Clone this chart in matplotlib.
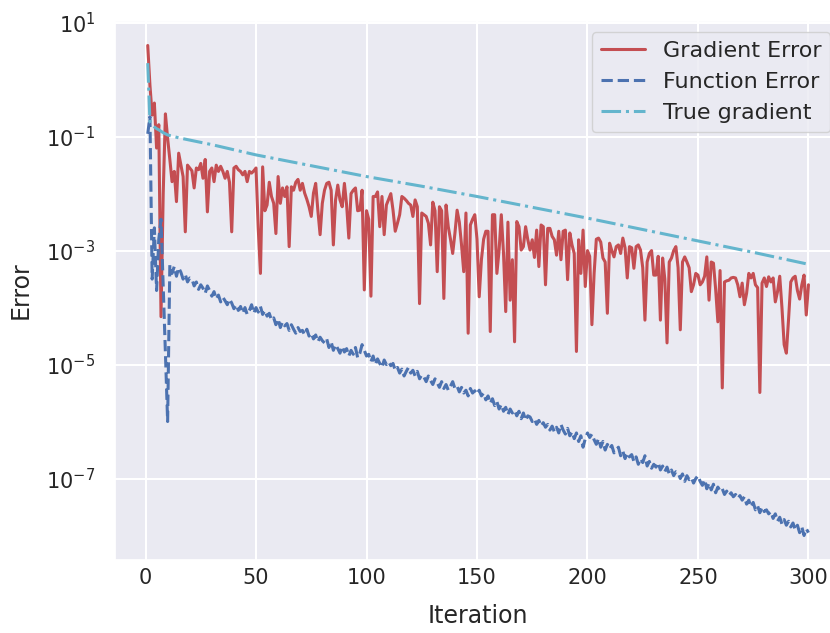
import matplotlib
matplotlib.use("Agg")
import matplotlib.pyplot as plt
import numpy as np
import seaborn as sns

sns.set_theme(style="darkgrid")
plt.rcParams['font.family'] = ['DejaVu Sans']

iteracoes = np.arange(1, 301)

# log10 of the gradient error, iterations 1..300
grad_err_log = [
    0.6, -0.1, -0.62, -0.41, -1.2, -0.79, -4.16, -2.0, -0.6, -1.03,
    -1.4, -1.79, -1.61, -2.14, -1.29, -1.5, -1.7, -2.67, -1.5, -1.55,
    -1.6, -1.9, -1.55, -1.58, -1.47, -1.73, -1.4, -2.32, -1.61, -1.55,
    -1.79, -1.5, -1.61, -1.52, -1.61, -1.73, -1.61, -1.8, -2.67, -1.55,
    -1.52, -1.58, -1.61, -1.67, -1.61, -1.79, -1.61, -1.64, -1.6, -1.55,
    -2.6, -3.4, -1.53, -2.3, -2.2, -1.8, -2.05, -2.17, -2.7, -1.7,
    -2.17, -1.9, -2.05, -1.88, -2.93, -1.88, -1.94, -1.8, -1.75, -1.94,
    -1.82, -1.99, -2.1, -2.23, -2.4, -1.99, -1.82, -2.3, -2.72, -2.17,
    -1.94, -1.82, -1.8, -1.94, -2.9, -2.11, -1.85, -2.11, -2.23, -1.82,
    -2.2, -2.78, -2.0, -1.94, -1.9, -2.3, -2.29, -1.94, -3.69, -2.3,
    -2.45, -3.8, -2.05, -2.05, -1.97, -2.58, -2.05, -2.72, -2.2, -2.1,
    -2.0, -2.29, -2.66, -2.52, -2.37, -2.05, -2.08, -2.12, -2.17, -2.2,
    -2.4, -2.11, -2.23, -3.93, -2.34, -2.37, -2.4, -2.52, -2.9, -2.15,
    -2.3, -3.37, -2.23, -2.3, -3.84, -2.2, -2.58, -2.8, -3.05, -2.7,
    -2.29, -2.5, -2.9, -3.37, -2.34, -4.45, -2.55, -2.45, -2.37, -2.8,
    -3.81, -3.16, -2.8, -2.66, -2.66, -4.42, -2.37, -2.37, -3.4, -2.99,
    -2.37, -3.05, -4.07, -2.5, -3.87, -3.16, -4.6, -2.49, -2.58, -2.99,
    -2.93, -2.58, -2.81, -2.99, -2.81, -3.12, -2.64, -3.28, -2.55, -2.58,
    -3.6, -2.61, -2.61, -2.75, -2.81, -3.08, -2.66, -3.16, -2.66, -2.64,
    -3.51, -2.69, -2.9, -3.05, -4.77, -2.81, -3.4, -2.64, -3.63, -3.0,
    -3.1, -4.3, -3.4, -2.8, -2.78, -2.85, -3.13, -3.2, -4.1, -2.87,
    -3.0, -3.11, -2.93, -2.9, -3.05, -2.78, -2.95, -3.48, -2.93, -2.95,
    -3.31, -2.93, -2.9, -2.99, -3.3, -4.22, -3.2, -3.05, -3.0, -3.43,
    -3.43, -3.1, -4.22, -3.13, -3.5, -4.62, -3.2, -3.13, -3.0, -2.93,
    -3.3, -4.39, -3.2, -3.11, -3.2, -3.3, -3.72, -3.6, -3.4, -3.43,
    -3.6, -3.55, -3.45, -3.11, -3.87, -3.2, -3.22, -3.68, -4.25, -3.35,
    -5.41, -3.55, -3.53, -3.52, -3.48, -3.47, -3.48, -3.6, -3.81, -3.57,
    -3.95, -3.75, -3.4, -3.48, -3.4, -3.6, -3.65, -5.49, -3.57, -3.48,
    -3.63, -3.46, -3.55, -3.48, -3.9, -3.72, -3.45, -4.0, -4.65, -4.8,
    -4.2, -3.55, -3.48, -3.45, -3.7, -3.85, -3.6, -3.43, -4.13, -3.6,
]

# log10 of the function error, iterations 1..300
func_err_log = [
    -0.95, -0.65, -3.5, -2.6, -3.7, -2.8, -2.45, -3.6, -4.8, -6.0,
    -3.25, -3.4, -3.28, -3.45, -3.3, -3.38, -3.5, -3.42, -3.55, -3.48,
    -3.5, -3.62, -3.55, -3.68, -3.6, -3.66, -3.75, -3.62, -3.7, -3.8,
    -3.72, -3.85, -3.78, -3.9, -3.82, -3.88, -3.95, -3.85, -3.92, -4.02,
    -3.95, -4.05, -3.98, -4.1, -4.0, -4.12, -4.05, -3.95, -4.1, -4.0,
    -4.08, -3.98, -4.12, -4.05, -4.15, -4.1, -4.22, -4.18, -4.3, -4.2,
    -4.35, -4.25, -4.32, -4.28, -4.4, -4.3, -4.38, -4.45, -4.35, -4.42,
    -4.4, -4.48, -4.38, -4.5, -4.45, -4.55, -4.48, -4.6, -4.52, -4.58,
    -4.62, -4.55, -4.7, -4.6, -4.75, -4.65, -4.72, -4.8, -4.68, -4.78,
    -4.72, -4.85, -4.75, -4.82, -4.7, -4.88, -4.8, -4.65, -4.75, -4.85,
    -4.82, -4.95, -4.85, -5.0, -4.9, -4.98, -5.05, -4.92, -5.0, -4.95,
    -5.02, -4.98, -5.1, -5.05, -5.15, -5.08, -5.2, -5.12, -5.05, -5.15,
    -5.1, -5.2, -5.12, -5.25, -5.18, -5.22, -5.3, -5.2, -5.28, -5.35,
    -5.25, -5.32, -5.4, -5.3, -5.42, -5.35, -5.45, -5.38, -5.3, -5.42,
    -5.38, -5.48, -5.4, -5.5, -5.45, -5.55, -5.42, -5.5, -5.46, -5.52,
    -5.45, -5.55, -5.5, -5.62, -5.55, -5.68, -5.6, -5.72, -5.65, -5.78,
    -5.7, -5.82, -5.75, -5.88, -5.78, -5.85, -5.8, -5.9, -5.82, -5.95,
    -5.85, -5.98, -5.9, -5.92, -6.0, -5.95, -6.05, -5.98, -6.08, -6.02,
    -6.1, -6.05, -6.15, -6.08, -6.18, -6.1, -6.2, -6.05, -6.15, -6.22,
    -6.12, -6.25, -6.18, -6.3, -6.2, -6.35, -6.25, -6.45, -6.3, -6.2,
    -6.28, -6.22, -6.32, -6.4, -6.3, -6.45, -6.35, -6.5, -6.4, -6.48,
    -6.42, -6.55, -6.5, -6.45, -6.6, -6.52, -6.65, -6.55, -6.62, -6.58,
    -6.7, -6.62, -6.75, -6.65, -6.72, -6.6, -6.78, -6.7, -6.82, -6.75,
    -6.8, -6.72, -6.85, -6.78, -6.88, -6.8, -6.92, -6.85, -6.95, -6.88,
    -6.9, -7.0, -6.92, -7.05, -6.95, -7.02, -6.98, -7.08, -7.0, -6.95,
    -7.05, -7.12, -7.02, -7.18, -7.08, -7.2, -7.1, -7.25, -7.15, -7.22,
    -7.18, -7.28, -7.22, -7.3, -7.25, -7.32, -7.28, -7.35, -7.3, -7.38,
    -7.32, -7.45, -7.38, -7.5, -7.42, -7.55, -7.48, -7.6, -7.5, -7.58,
    -7.55, -7.62, -7.58, -7.7, -7.62, -7.75, -7.68, -7.8, -7.72, -7.82,
    -7.75, -7.85, -7.78, -7.9, -7.82, -7.95, -7.85, -8.0, -7.88, -7.95,
]

# true gradient norm, read at a few iterations (smooth curve)
true_iter = [1, 2, 3, 4, 5, 6, 8, 10, 15, 20, 30, 40, 50, 75, 100,
             125, 150, 175, 200, 225, 250, 275, 300]
true_grad_log = [0.29, -0.74, -0.8, -0.83, -0.86, -0.88, -0.93, -0.97,
                 -1.02, -1.06, -1.14, -1.23, -1.32, -1.51, -1.70,
                 -1.87, -2.05, -2.24, -2.43, -2.63, -2.83, -3.03, -3.24]

tamanho_fonte = 15

fig = plt.figure(figsize=(8.30, 6.33), dpi=100)
ax = fig.add_axes([114.7 / 830, 73 / 633, 726.8 / 830, 539 / 633])

ax.plot(iteracoes, 10 ** np.array(grad_err_log), color='#C44E52', linewidth=2.2,
        label='Gradient Error')
ax.plot(iteracoes, 10 ** np.array(func_err_log), color='#4C72B0', linewidth=2.2,
        linestyle='--', label='Function Error')
ax.plot(true_iter, 10 ** np.array(true_grad_log), color='#64B5CD', linewidth=2.2,
        linestyle='-.', label='True gradient')

ax.set_yscale('log')
ax.set_xlim(-13.95, 314.95)
ax.set_ylim(10 ** -8.43, 10 ** 1.03)
ax.set_yticks([1e1, 1e-1, 1e-3, 1e-5, 1e-7])
ax.yaxis.set_minor_locator(matplotlib.ticker.NullLocator())
ax.set_xticks([0, 50, 100, 150, 200, 250, 300])
ax.tick_params(axis='x', labelsize=tamanho_fonte, length=0, pad=6)
ax.tick_params(axis='y', labelsize=tamanho_fonte, length=0, pad=14)

ax.set_xlabel('Iteration', fontsize=tamanho_fonte + 2, labelpad=11)
ax.set_ylabel('Error', fontsize=tamanho_fonte + 2, labelpad=10)
ax.grid(color='white', linewidth=1.5)

ax.legend(loc='upper right', fontsize=tamanho_fonte + 1)

fig.savefig('out.png', dpi=100)
plt.close()
